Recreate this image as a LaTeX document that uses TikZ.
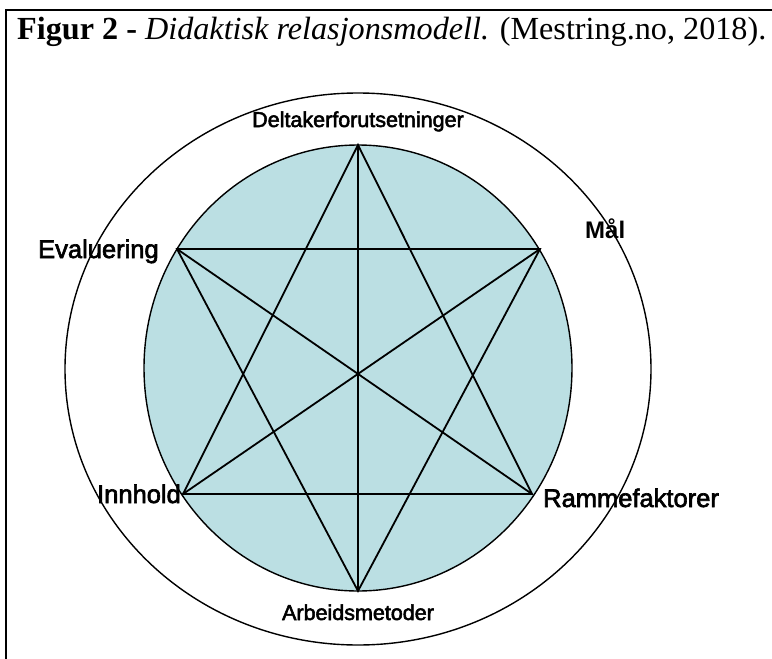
\documentclass[tikz,border=0pt]{standalone}
\usepackage{fontspec}
\setmainfont{Liberation Serif}
\newfontfamily\arialfont{Liberation Sans}[FakeBold=2.5]
\newfontfamily\arialboldfont{Liberation Sans Bold}
\definecolor{fillblue}{RGB}{187,223,227}
\begin{document}
\begin{tikzpicture}[x=1pt,y=-1pt,
  biglbl/.style={inner sep=0pt,font=\arialfont\fontsize{25.5}{25.5}\selectfont},
  smalllbl/.style={inner sep=0pt,font=\arialfont\fontsize{21.5}{21.5}\selectfont},
  starline/.style={line width=1.8pt},
  ring/.style={line width=1.4pt}]
\useasboundingbox (0,0) rectangle (772,659);
% frame (left and top edges visible)
\draw[line width=2pt] (6,670) -- (6,10) -- (780,10);
% title
\node[anchor=base west,inner sep=0pt,font=\fontsize{32.2}{32.2}\selectfont] (title) at (17,39)
  {\textbf{Figur 2 -} \textit{Didaktisk relasjonsmodell.} (Mestring.no, 2018).};
% circles
\coordinate (C) at (358,369);
\draw[ring] (C) ellipse [x radius=293, y radius=276];
\draw[ring, fill=fillblue] (358,368) ellipse [x radius=214, y radius=223];
% star vertices
\coordinate (D) at (358,145);
\coordinate (E) at (177,249);
\coordinate (M) at (540,249);
\coordinate (I) at (183,494);
\coordinate (R) at (532,494);
\coordinate (A) at (358,591);
\draw[starline] (D) -- (I) -- (R) -- cycle;
\draw[starline] (E) -- (M) -- (A) -- cycle;
\draw[starline] (D) -- (A);
\draw[starline] (E) -- (R);
\draw[starline] (M) -- (I);
% labels
\node[smalllbl, anchor=base] (lD) at (358,127) {Deltakerforutsetninger};
\node[biglbl, anchor=base west] (lE) at (38,258) {Evaluering};
\node[inner sep=0pt, font=\arialboldfont\fontsize{24}{24}\selectfont, anchor=base west] (lM) at (585,238) {Mål};
\node[biglbl, anchor=base east] (lI) at (181,503) {Innhold};
\node[biglbl, anchor=base west] (lR) at (543,507) {Rammefaktorer};
\node[smalllbl, anchor=base] (lA) at (358,620) {Arbeidsmetoder};
\end{tikzpicture}
\end{document}
